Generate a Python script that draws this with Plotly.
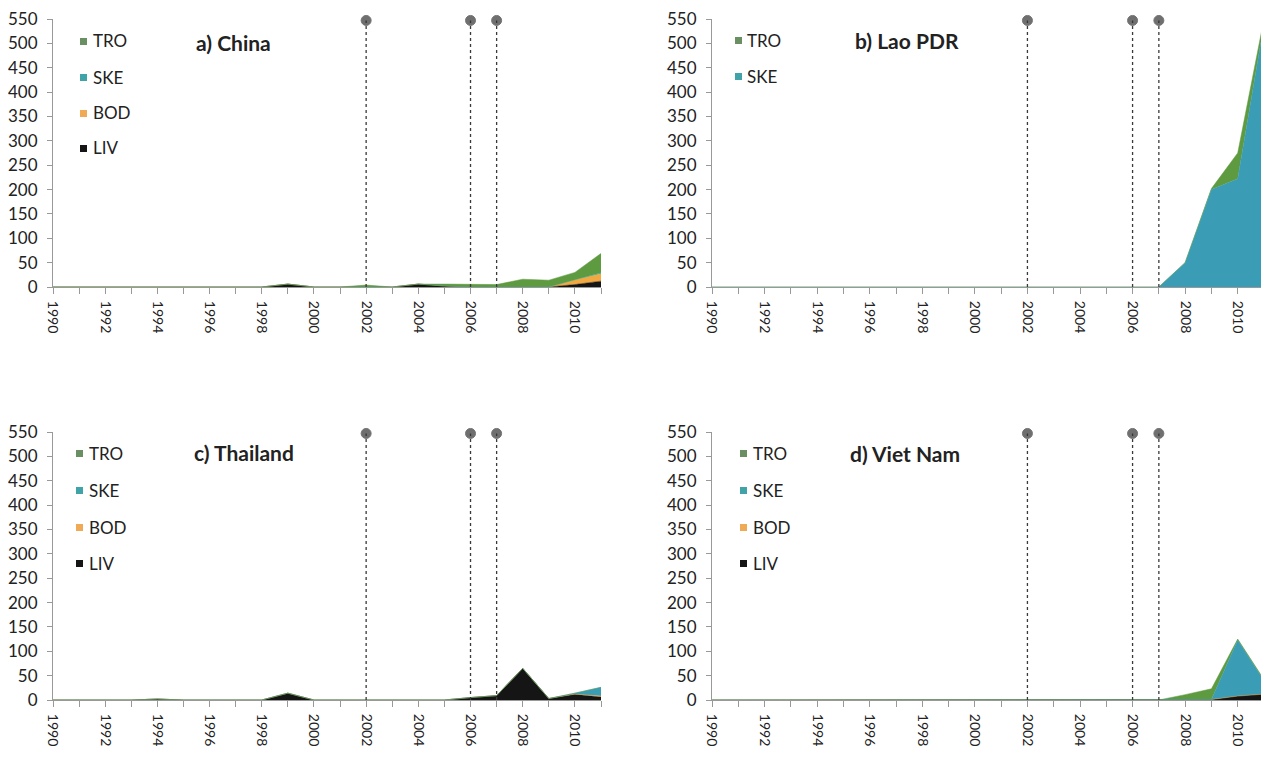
import plotly.graph_objects as go

YEARS = list(range(1990, 2012))
EVENT_YEARS = [2002, 2006, 2007]
EVENT_TOP = 547

def series(d):
    return [d.get(y, 0) for y in YEARS]

# a) China
CHINA_LIV = series({1999: 6, 2004: 6, 2005: 2, 2010: 5, 2011: 12})
CHINA_BOD = series({2010: 10, 2011: 15})
CHINA_SKE = series({2011: 2})
CHINA_TRO = series({2002: 4, 2005: 4, 2006: 5, 2007: 5, 2008: 16, 2009: 14, 2010: 15, 2011: 40})
# b) Lao PDR
LAO_SKE = series({2008: 50, 2009: 200, 2010: 222, 2011: 540})
LAO_TRO = series({2009: 2, 2010: 53, 2011: 10})
# c) Thailand
THA_LIV = series({1994: 2, 1999: 14, 2006: 5, 2007: 9, 2008: 65, 2009: 3, 2010: 12, 2011: 6})
THA_BOD = series({2011: 2})
THA_SKE = series({2010: 2, 2011: 18})
THA_TRO = series({})
# d) Viet Nam
VN_LIV = series({2009: 1, 2010: 8, 2011: 12})
VN_BOD = series({})
VN_SKE = series({2010: 115, 2011: 28})
VN_TRO = series({2008: 11, 2009: 22, 2010: 2, 2011: 2})

COLORS = {"TRO": "#5e9a3f", "SKE": "#3b9db5", "BOD": "#f3a942", "LIV": "#151515"}
SKE_CHINA = "#3aa88f"
LEG_COLORS = {"TRO": "#6a8f63", "SKE": "#3fa3a8", "BOD": "#f0aa55", "LIV": "#151515"}

W, H, OFF = 1261, 756, 8

def px(X):
    return (X - OFF) / W

def py(Y):
    return 1 - (Y - OFF) / H

PANELS = [
    dict(title="a) China", data={"LIV": CHINA_LIV, "BOD": CHINA_BOD, "SKE": CHINA_SKE, "TRO": CHINA_TRO},
         legend=["TRO", "SKE", "BOD", "LIV"], xpx=(53, 601), ypx=(287, 19),
         tpos=(194, 43), sq_x=80, txt_x=91, leg_y=[41, 77, 113, 148]),
    dict(title="b) Lao PDR", data={"SKE": LAO_SKE, "TRO": LAO_TRO},
         legend=["TRO", "SKE"], xpx=(712, 1264), ypx=(287, 19),
         tpos=(853, 41), sq_x=735, txt_x=745, leg_y=[40, 76]),
    dict(title="c) Thailand", data={"LIV": THA_LIV, "BOD": THA_BOD, "SKE": THA_SKE, "TRO": THA_TRO},
         legend=["TRO", "SKE", "BOD", "LIV"], xpx=(53, 601), ypx=(700, 432),
         tpos=(192, 452), sq_x=76, txt_x=87, leg_y=[453, 490, 527, 563]),
    dict(title="d) Viet Nam", data={"LIV": VN_LIV, "BOD": VN_BOD, "SKE": VN_SKE, "TRO": VN_TRO},
         legend=["TRO", "SKE", "BOD", "LIV"], xpx=(712, 1264), ypx=(700, 432),
         tpos=(848, 453), sq_x=740, txt_x=751, leg_y=[453, 490, 527, 563]),
]

FONT = "Lato, 'Open Sans', sans-serif"
fig = go.Figure()
annotations, shapes = [], []
layout = dict(width=W, height=H, margin=dict(l=0, r=0, t=0, b=0),
              paper_bgcolor="white", plot_bgcolor="white", showlegend=False,
              font=dict(family=FONT, size=15, color="#222"))

for i, p in enumerate(PANELS):
    n = "" if i == 0 else str(i + 1)
    xa, ya = "x" + n, "y" + n
    for key in ["LIV", "BOD", "SKE", "TRO"]:
        if key not in p["data"]:
            continue
        col = SKE_CHINA if (i == 0 and key == "SKE") else COLORS[key]
        fig.add_trace(go.Scatter(x=YEARS, y=p["data"][key], stackgroup="s%d" % i, mode="lines",
                                 name=key, line=dict(width=0.5, color=col), fillcolor=col,
                                 xaxis=xa, yaxis=ya, hoverinfo="skip"))
    for yr in EVENT_YEARS:
        fig.add_trace(go.Scatter(x=[yr, yr], y=[0, EVENT_TOP], mode="lines+markers",
                                 line=dict(color="#3a3a3a", width=1.3, dash="dot"),
                                 marker=dict(size=[0, 10], color="#333"), cliponaxis=False,
                                 xaxis=xa, yaxis=ya, hoverinfo="skip"))
    for key, ly in zip(p["legend"], p["leg_y"]):
        shapes.append(dict(type="rect", xref="paper", yref="paper",
                           x0=px(p["sq_x"]), x1=px(p["sq_x"] + 7),
                           y0=py(ly + 4), y1=py(ly - 3),
                           fillcolor=LEG_COLORS[key], line=dict(width=0)))
        annotations.append(dict(text=key, x=px(p["txt_x"]), y=py(ly), xref="paper", yref="paper",
                                xanchor="left", yanchor="middle", showarrow=False,
                                font=dict(size=17, family=FONT, color="#222")))
    annotations.append(dict(text="<b>%s</b>" % p["title"], x=px(p["tpos"][0]), y=py(p["tpos"][1]),
                            xref="paper", yref="paper", xanchor="left", yanchor="middle",
                            showarrow=False, font=dict(size=21, family=FONT, color="#222")))
    layout["xaxis" + n] = dict(domain=[px(p["xpx"][0]), px(p["xpx"][1])], anchor=ya,
                               range=[1990, 2011], tickmode="linear",
                               tick0=1990, dtick=2, tickangle=90, ticks="outside", ticklen=6,
                               tickcolor="#999", showline=True, linecolor="#999", showgrid=False,
                               zeroline=False, ticklabelstandoff=4, ticklabeloverflow="allow",
                               tickfont=dict(size=14, family=FONT, color="#222"),
                               minor=dict(dtick=1, ticks="outside", ticklen=6, tickcolor="#999"),
                               automargin=False)
    layout["yaxis" + n] = dict(domain=[py(p["ypx"][0]), py(p["ypx"][1])], anchor=xa,
                               range=[0, 550], tickmode="linear",
                               tick0=0, dtick=50, ticks="outside", ticklen=5, tickcolor="#999",
                               showline=True, linecolor="#999", showgrid=False, zeroline=False,
                               ticklabelstandoff=6, ticklabeloverflow="allow",
                               tickfont=dict(size=17, family=FONT, color="#222"), automargin=False)

layout["annotations"] = annotations
layout["shapes"] = shapes
fig.update_layout(**layout)
fig.write_html("out.html")
